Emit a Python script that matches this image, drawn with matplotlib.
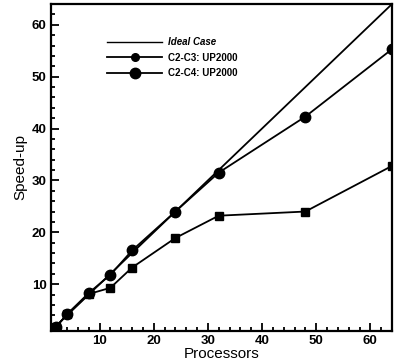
import numpy as np
import matplotlib.pyplot as plt
from matplotlib.lines import Line2D
from matplotlib.ticker import MultipleLocator

procs_ideal = [1, 64]
speed_ideal = [1, 64]

procs_c3 = [1, 2, 4, 8, 12, 16, 24, 32, 48, 64]
speed_c3 = [1, 1.8, 4.2, 8.1, 9.3, 13.2, 18.9, 23.2, 24.0, 32.8]

procs_c4 = [1, 2, 4, 8, 12, 16, 24, 32, 48, 64]
speed_c4 = [1, 1.8, 4.2, 8.3, 11.8, 16.5, 24.0, 31.5, 42.3, 55.3]

labels = ['Ideal Case', 'C2-C3: UP2000', 'C2-C4: UP2000']

plt.rcParams['font.family'] = ['Liberation Sans', 'DejaVu Sans']

fig = plt.figure(figsize=(3.94, 3.64), dpi=100)
ax = fig.add_axes([0.129, 0.091, 0.866, 0.898])

ax.plot(procs_ideal, speed_ideal, color='black', lw=1.3)
ax.plot(procs_c3, speed_c3, color='black', lw=1.3, marker='s', ms=5.5)
ax.plot(procs_c4, speed_c4, color='black', lw=1.3, marker='o', ms=7.5)

ax.set_xlim(1, 64)
ax.set_ylim(1, 64)
ax.xaxis.set_major_locator(MultipleLocator(10))
ax.xaxis.set_minor_locator(MultipleLocator(2))
ax.yaxis.set_major_locator(MultipleLocator(10))
ax.yaxis.set_minor_locator(MultipleLocator(2))
ax.tick_params(which='both', direction='in', top=False, right=False, width=1.3)
ax.tick_params(which='major', length=6, labelsize=9.5, pad=3)
ax.tick_params(which='minor', length=3)
for lab in ax.get_xticklabels() + ax.get_yticklabels():
    lab.set_fontweight('bold')
for sp in ax.spines.values():
    sp.set_linewidth(1.6)

ax.set_xlabel('Processors', fontsize=11, labelpad=0)
ax.set_ylabel('Speed-up', fontsize=11, labelpad=3)

handles = [
    Line2D([], [], color='black', lw=1.0),
    Line2D([], [], color='black', lw=1.3, marker='o', ms=5.5),
    Line2D([], [], color='black', lw=1.3, marker='o', ms=7.5),
]
leg = ax.legend(handles, labels, loc='upper left', bbox_to_anchor=(0.14, 0.925),
                frameon=False, handlelength=5.6, handletextpad=0.6, labelspacing=0.55,
                prop={'size': 7, 'weight': 'bold', 'style': 'italic'})
for i, t in enumerate(leg.get_texts()):
    if i > 0:
        t.set_fontstyle('normal')

fig.savefig('out.png', dpi=100)
